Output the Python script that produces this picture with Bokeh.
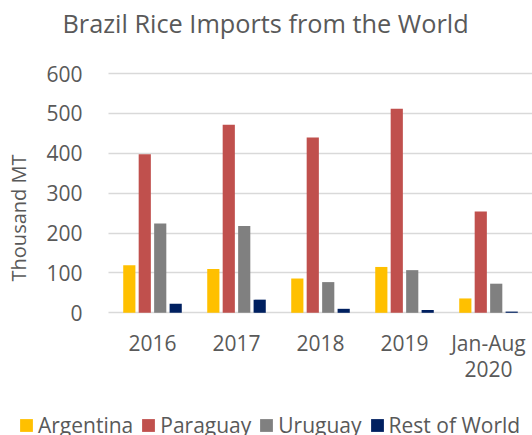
from bokeh.plotting import figure
from bokeh.models import (Range1d, ColumnDataSource, Legend, LegendItem, Label,
                          FixedTicker, LinearAxis, Grid)
from bokeh.transform import dodge
from bokeh.embed import file_html
from bokeh.resources import INLINE

categories = ["2016", "2017", "2018", "2019", "Jan-Aug\n2020"]
argentina = [119, 110, 86, 115, 36]
paraguay = [398, 472, 440, 512, 254]
uruguay = [224, 218, 77, 107, 73]
rest_of_world = [23, 33, 10, 7, 3]
series_names = ["Argentina", "Paraguay", "Uruguay", "Rest of World"]
series_keys = ["argentina", "paraguay", "uruguay", "rest"]
colors = ["#FFC000", "#C0504D", "#808080", "#002060"]
y_ticks = [0, 100, 200, 300, 400, 500, 600]

FONT = "Open Sans"
TXT = "#595959"
GRID = "#d9d9d9"

W, H = 532, 435
# plot-area geometry (pixels) used to set the visible ranges
AREA_LEFT, CAT_W = 110, 84.0
Y0_PX, PX_PER_UNIT = 312.3, 0.39867

xpos = list(range(len(categories)))
source = ColumnDataSource(dict(x=xpos, argentina=argentina, paraguay=paraguay,
                               uruguay=uruguay, rest=rest_of_world))

x_start = (0 - AREA_LEFT) / CAT_W - 0.5
x_end = (W - AREA_LEFT) / CAT_W - 0.5
y_start = -(H - Y0_PX) / PX_PER_UNIT
y_end = Y0_PX / PX_PER_UNIT
grid_left = -0.5 - 2 / CAT_W

p = figure(x_range=Range1d(x_start, x_end), y_range=Range1d(y_start, y_end),
           width=W, height=H, output_backend="svg", toolbar_location=None,
           x_axis_type=None, y_axis_type=None,
           min_border_left=0, min_border_right=0, min_border_top=0, min_border_bottom=0)
p.outline_line_color = None
p.background_fill_color = "white"
p.border_fill_color = "white"

# horizontal gridlines across the plot area only
if "cross_bounds" in Grid.properties():
    p.add_layout(Grid(dimension=1, ticker=FixedTicker(ticks=y_ticks),
                      cross_bounds=(grid_left, x_end),
                      grid_line_color=GRID, grid_line_width=1.3))
else:
    p.segment(x0=grid_left, x1=x_end, y0=y_ticks, y1=y_ticks,
              line_color=GRID, line_width=1.3)

offsets = [-0.276, -0.092, 0.092, 0.276]
renderers = []
for key, off, col in zip(series_keys, offsets, colors):
    r = p.vbar(x=dodge("x", off), top=key, width=0.145, source=source,
               fill_color=col, line_color=None)
    renderers.append(r)

# y axis drawn at the left edge of the plot area
yaxis = LinearAxis(fixed_location=-0.5, ticker=FixedTicker(ticks=y_ticks))
yaxis.axis_line_color = None
yaxis.major_tick_line_color = None
yaxis.minor_tick_line_color = None
yaxis.major_label_standoff = 22
yaxis.major_label_text_font = FONT
yaxis.major_label_text_font_size = "21px"
yaxis.major_label_text_color = TXT
yaxis.axis_label = "Thousand MT"
yaxis.axis_label_text_font = FONT
yaxis.axis_label_text_font_size = "20px"
yaxis.axis_label_text_font_style = "normal"
yaxis.axis_label_text_color = TXT
yaxis.axis_label_standoff = 11
p.add_layout(yaxis, "left")

# category axis at y = 0
xaxis = LinearAxis(fixed_location=0, ticker=FixedTicker(ticks=xpos),
                   major_label_overrides={i: c for i, c in zip(xpos, categories)})
xaxis.axis_line_color = None
xaxis.major_tick_line_color = None
xaxis.minor_tick_line_color = None
xaxis.major_label_standoff = 10
xaxis.major_label_text_font = FONT
xaxis.major_label_text_font_size = "21px"
xaxis.major_label_text_line_height = 0.93
xaxis.major_label_text_color = TXT
p.add_layout(xaxis, "below")

p.add_layout(Label(x=62, y=H - 22, x_units="screen", y_units="screen",
                   text="Brazil Rice Imports from the World", text_font=FONT,
                   text_font_size="25.3px", text_color=TXT, text_align="left",
                   text_baseline="middle"))

legend = Legend(items=[LegendItem(label=n, renderers=[r]) for n, r in zip(series_names, renderers)],
                orientation="horizontal", location=(18, -4),
                glyph_width=16, glyph_height=16, label_standoff=4, spacing=7,
                padding=0, margin=0, border_line_color=None, background_fill_alpha=0,
                label_text_font=FONT, label_text_font_size="21px", label_text_color=TXT)
p.add_layout(legend, "center")

open("out.html", "w").write(file_html(p, INLINE))
